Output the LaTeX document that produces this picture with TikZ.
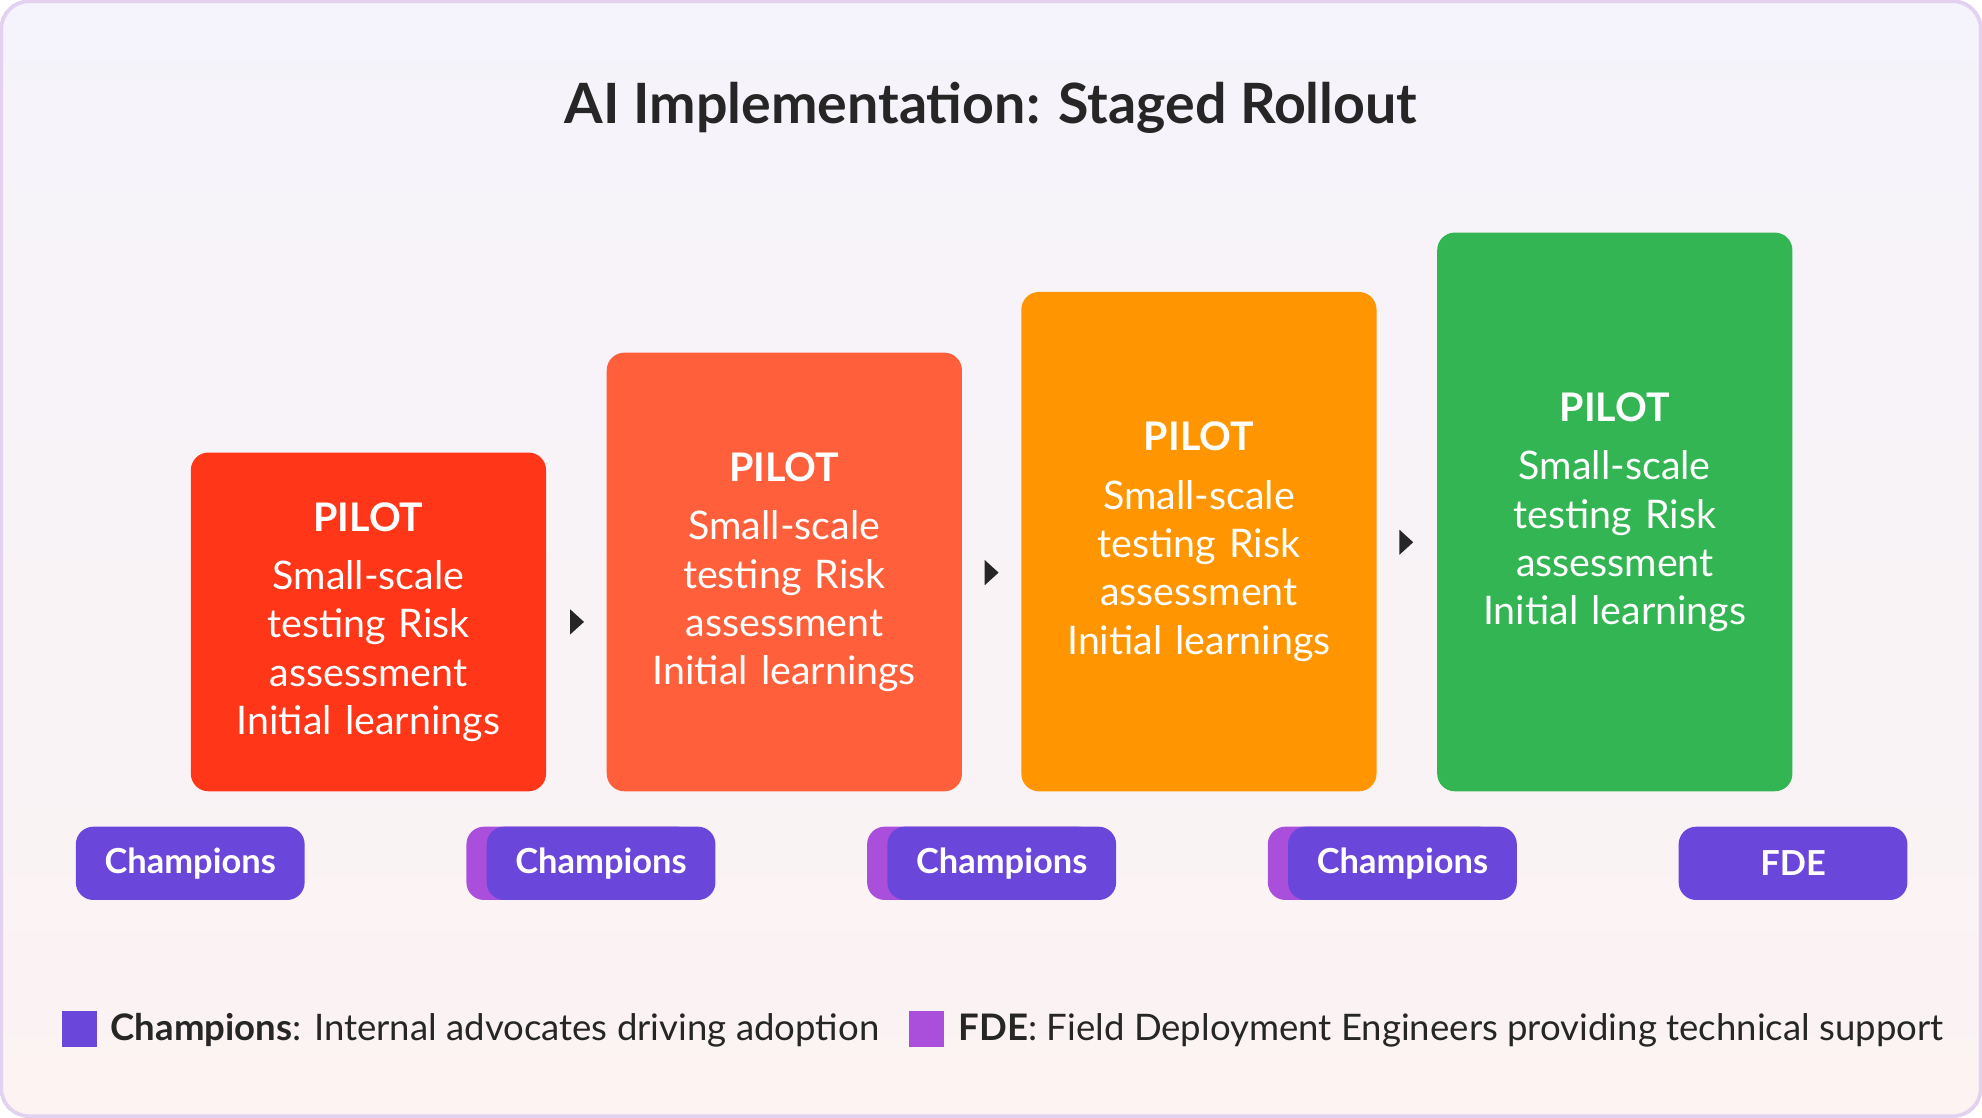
\documentclass[tikz,border=0pt]{standalone}
\usepackage{fontspec}
\setmainfont{Lato}
\begin{document}
\begin{tikzpicture}[x=0.01264cm,y=-0.01264cm,
 btxt/.style={text=white,align=center,font=\fontsize{11.2}{13.7}\selectfont,text width=3.4cm},
 pill/.style={fill=champ,rounded corners=5pt,minimum width=181*0.01264cm,minimum height=58*0.01264cm,text=white,font=\fontsize{9.8}{12}\selectfont\bfseries,inner sep=0pt},
 shade/.style={fill=fdec,rounded corners=5pt,minimum width=181*0.01264cm,minimum height=58*0.01264cm,inner sep=0pt},
 legtxt/.style={anchor=west,font=\fontsize{10.4}{12}\selectfont,text=black!85,inner sep=0pt},
 tri/.style={fill=black!85,draw=none}]
\definecolor{champ}{HTML}{6B46DB}
\definecolor{fdec}{HTML}{A94FDB}
\definecolor{cA}{HTML}{FF3618}
\definecolor{cB}{HTML}{FF5F3B}
\definecolor{cC}{HTML}{FF9500}
\definecolor{cD}{HTML}{34B553}
\definecolor{bgA}{HTML}{F5F3FB}
\definecolor{bgB}{HTML}{FCF3F2}
\definecolor{bdr}{HTML}{E2D2F0}
\useasboundingbox (0,0) rectangle (1568,884);
\shade[top color=bgA,bottom color=bgB,rounded corners=8pt] (0,0) rectangle (1568,884);
\draw[bdr,line width=1pt,rounded corners=8pt] (1,1) rectangle (1567,883);
\node[font=\fontsize{15.8}{19}\selectfont\bfseries,text=black!85] (title) at (784,85) {AI Implementation: Staged Rollout};
\foreach \n/\x/\y/\c in {1/151/358/cA,2/480/279/cB,3/808/231/cC,4/1137/184/cD}{
 \path[fill=\c,rounded corners=5pt] (\x,\y) rectangle (\x+281,626);
 \node[btxt] (s\n) at (\x+140.5,{(\y+626)/2}) {{\bfseries PILOT}\\[3pt]Small-scale\\testing Risk\\assessment\\Initial learnings};
}
\foreach \x/\y in {456/492,784/453,1112/429}{
 \fill[tri] (\x-5,\y-10) -- (\x+6,\y) -- (\x-5,\y+10) -- cycle;
}
\node[pill] (p1) at (150.5,683) {Champions};
\foreach \n/\x in {2/385,3/702,4/1019}{
 \node[shade] at (\x-16+90.5,683) {};
 \node[pill] (p\n) at (\x+90.5,683) {Champions};
}
\node[pill] (p5) at (1418.5,683) {FDE};
\fill[champ] (49,800) rectangle (77,828);
\node[legtxt] (l1) at (87,815) {\textbf{Champions}: Internal advocates driving adoption};
\fill[fdec] (719,800) rectangle (747,828);
\node[legtxt] (l2) at (758,815) {\textbf{FDE}: Field Deployment Engineers providing technical support};
\end{tikzpicture}
\end{document}
